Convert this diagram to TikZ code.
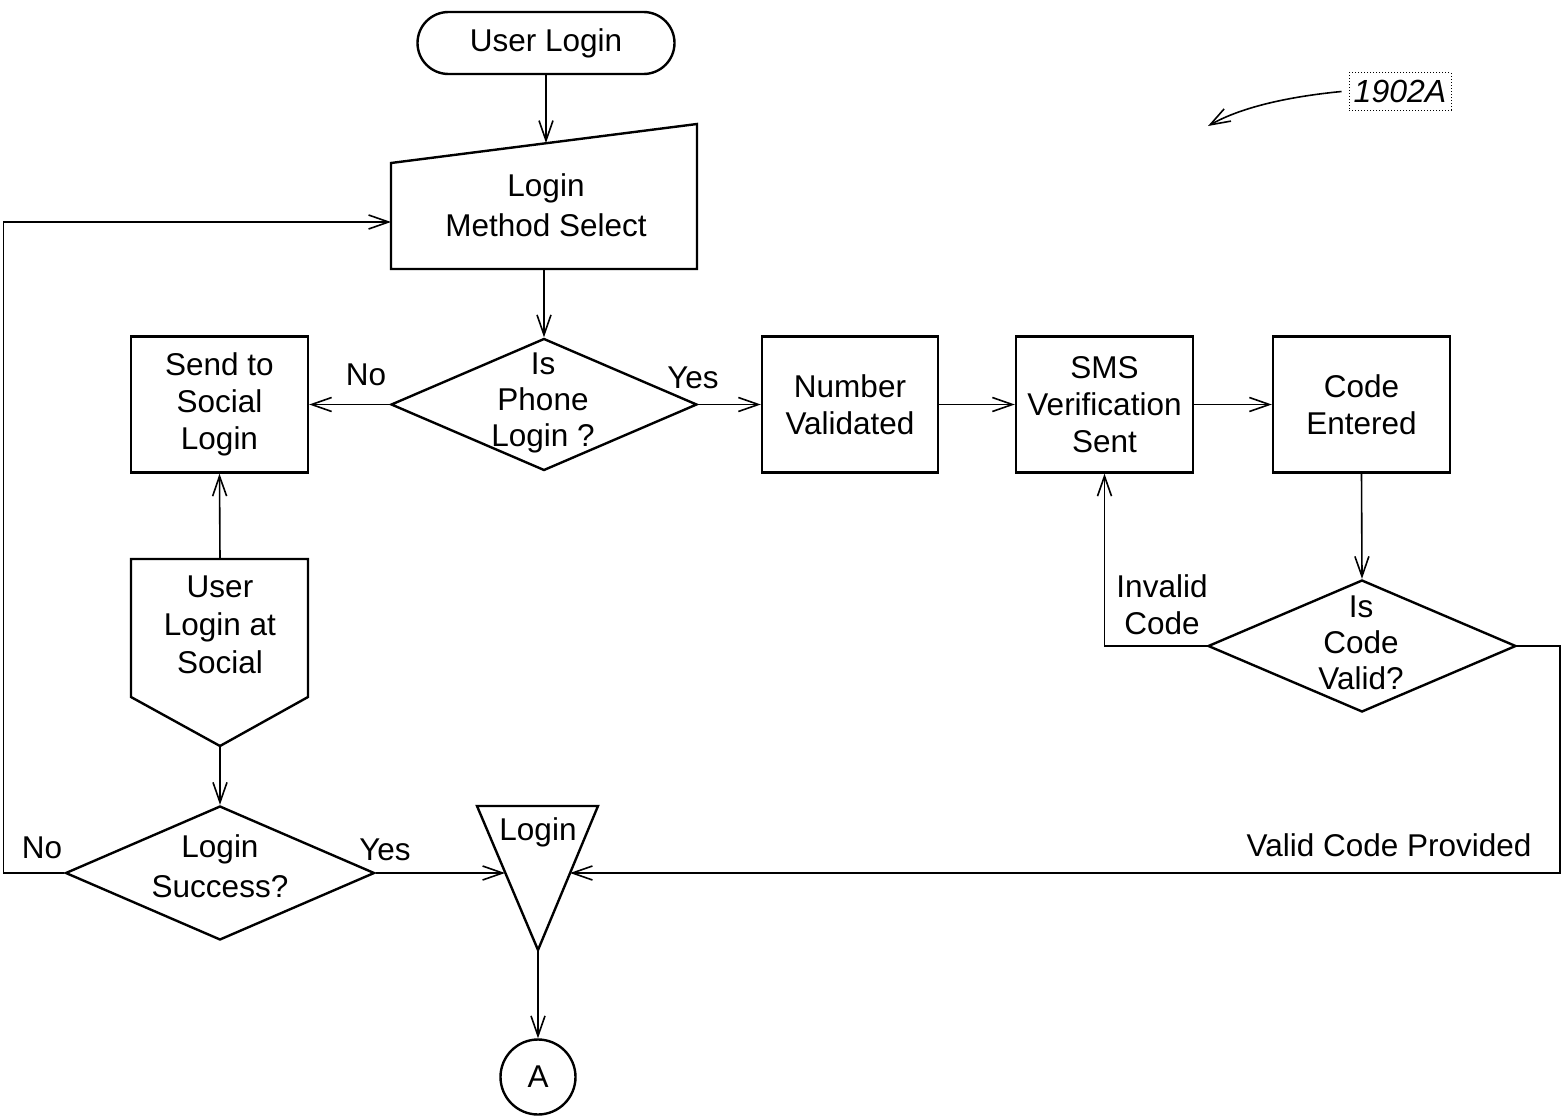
\documentclass[tikz,border=0pt]{standalone}
\usepackage{fontspec}
\setmainfont{Liberation Sans}
\usetikzlibrary{shapes.geometric,arrows.meta}
\begin{document}
\begin{tikzpicture}[x=1pt,y=-1pt,
  font=\fontsize{31.5}{37}\selectfont,
  shp/.style={draw, line width=2.4pt},
  box/.style={shp, rectangle, minimum width=177pt, minimum height=136pt, inner sep=0pt, align=center},
  dia/.style={shp, diamond, inner sep=0pt},
  txt/.style={inner sep=0pt, align=center},
  conn/.style={line width=1.6pt, -{Straight Barb[length=20pt,width=14pt,line width=1.6pt]}},
  plain/.style={line width=1.6pt}]
\useasboundingbox (0,0) rectangle (1564,1116);

% terminal
\node[shp, rectangle, rounded corners=31pt, minimum width=257pt, minimum height=62pt, inner sep=0pt] (ul) at (546,43) {User Login};

% login method select (slanted top)
\draw[shp] (391,163) -- (697,124) -- (697,269) -- (391,269) -- cycle;
\node[txt, font=\fontsize{31.5}{40}\selectfont] (lms) at (546,205) {Login\\Method Select};
\coordinate (lmsTop) at (546,143);
\coordinate (lmsBot) at (544,269);
\coordinate (lmsLeft) at (391,222);

% phone diamond
\node[dia, minimum width=306pt, minimum height=132pt] (d1) at (544,404.5) {};
\node[txt, font=\fontsize{31.5}{36}\selectfont] at (543,403) {Is\\Phone\\Login ?};

% boxes
\node[box] (send) at (219.5,404.5) {Send to\\Social\\Login};
\node[box, minimum width=176pt] (num) at (850,404.5) {Number\\Validated};
\node[box] (sms) at (1104.5,404.5) {SMS\\Verification\\Sent};
\node[box] (code) at (1361.5,404.5) {Code\\Entered};

% code diamond
\node[dia, minimum width=308pt, minimum height=132pt] (d2) at (1362,646) {};
\node[txt, font=\fontsize{31.5}{36}\selectfont] at (1361,643) {Is\\Code\\Valid?};

% user login at social (pentagon)
\draw[shp] (131,559) -- (308,559) -- (308,697) -- (220,746) -- (131,697) -- cycle;
\node[txt, font=\fontsize{31.5}{38}\selectfont] (uls) at (220,625) {User\\Login at\\Social};
\coordinate (ulsTop) at (220,559);
\coordinate (ulsTip) at (220,746);

% login success diamond
\node[dia, minimum width=309pt, minimum height=134pt] (d3) at (220,873) {};
\node[txt, font=\fontsize{31.5}{40}\selectfont] at (220,866) {Login\\Success?};

% login triangle
\draw[shp] (477,806) -- (598,806) -- (538,950) -- cycle;
\node[txt] (tri) at (538,832) {Login};
\coordinate (triL) at (505,873);
\coordinate (triR) at (570,873);
\coordinate (triApex) at (538,950);

% connector circle
\node[shp, circle, minimum size=75pt, inner sep=0pt] (A) at (538,1077) {A};

% reference label
\node[draw, dotted, line width=1pt, minimum width=102pt, minimum height=37pt, inner sep=0pt, font=\fontsize{32}{37}\selectfont\itshape] (ref) at (1400,91.5) {1902A};
\coordinate (refTip) at (1208,126);

% connectors
\draw[conn] (ul.south) -- (lmsTop);
\draw[conn] (lmsBot) -- (d1.north);
\draw[conn] (d1.west) -- (send.east);
\draw[conn] (d1.east) -- (num.west);
\draw[conn] (num.east) -- (sms.west);
\draw[conn] (sms.east) -- (code.west);
\draw[conn] (code.south) -- (d2.north);
\draw[conn] (d2.west) -| (sms.south);
\draw[conn] (d2.east) -- ++(43,0) |- (triR);
\draw[conn] (ulsTop) -- (send.south);
\draw[conn] (ulsTip) -- (d3.north);
\draw[conn] (d3.east) -- (triL);
\draw[conn] (d3.west) -- ++(-61,0) |- (lmsLeft);
\draw[conn] (triApex) -- (A.north);
\draw[conn] (ref.west) ++(-7,0) .. controls (1285,97) and (1240,108) .. (refTip);

% labels
\node[txt] at (366,375) {No};
\node[txt] at (693,378) {Yes};
\node[txt] at (42,848) {No};
\node[txt] at (385,850) {Yes};
\node[txt] at (1162,605) {Invalid\\Code};
\node[txt] at (1389,845) {Valid Code Provided};
\end{tikzpicture}
\end{document}
